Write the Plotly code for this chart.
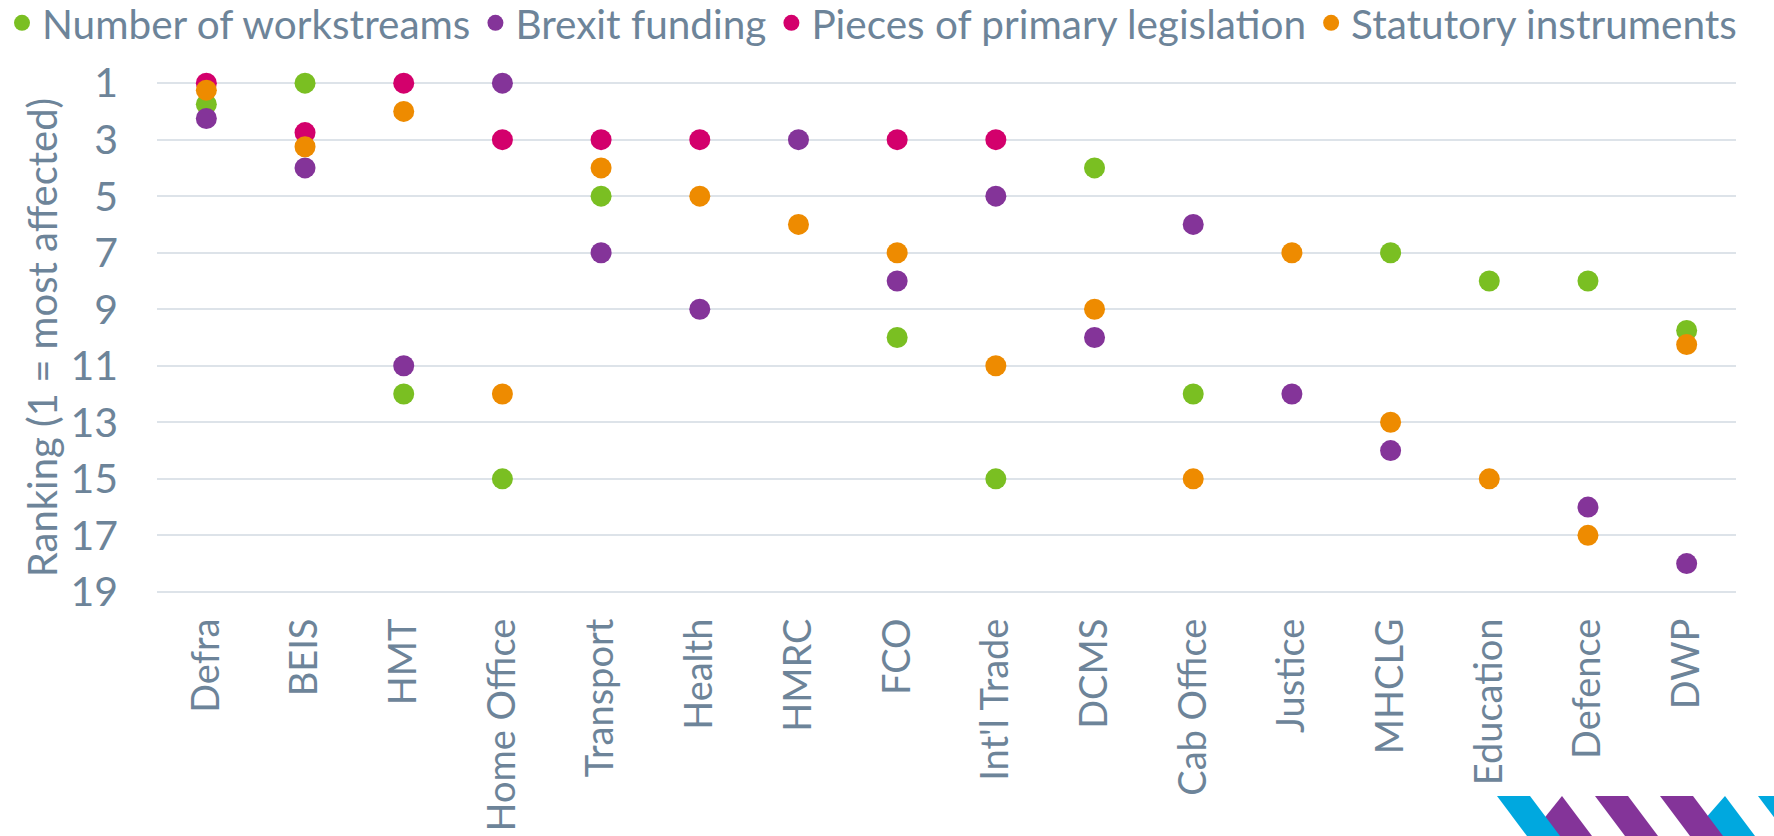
import plotly.graph_objects as go

# ---------------- data ----------------
departments = ["Defra", "BEIS", "HMT", "Home Office", "Transport", "Health", "HMRC", "FCO",
               "Int'l Trade", "DCMS", "Cab Office", "Justice", "MHCLG", "Education", "Defence", "DWP"]

workstreams = [1.75, 1, 12, 15, 5, None, None, 10, 15, 4, 12, None, 7, 8, 8, 9.75]
brexit_funding = [2.25, 4, 11, 1, 7, 9, 3, 8, 5, 10, 6, 12, 14, None, 16, 18]
primary_legislation = [1, 2.75, 1, 3, 3, 3, None, 3, 3, None, None, None, None, None, None, None]
statutory_instruments = [1.25, 3.25, 2, 12, 4, 5, 6, 7, 11, 9, 15, 7, 13, 15, 17, 10.25]

series_names = ["Number of workstreams", "Brexit funding", "Pieces of primary legislation", "Statutory instruments"]
series_values = [workstreams, brexit_funding, primary_legislation, statutory_instruments]
series_colors = ["#7ABF22", "#843499", "#D3006C", "#EE8B00"]

y_tick_values = [1, 3, 5, 7, 9, 11, 13, 15, 17, 19]
y_title = "Ranking (1 = most affected)"

# ---------------- style ----------------
W, H = 1774, 836
L, R, T, B = 157, 38, 82, 243
PW, PH = W - L - R, H - T - B
FONT = "Lato, Calibri, 'Open Sans', sans-serif"
TXT = "#6D8499"
GRID = "#DDE3E9"


def px_x(px):
    return (px - L) / PW


def px_y(py):
    return (H - B - py) / PH


fig = go.Figure()
for name, vals, col in zip(series_names, series_values, series_colors):
    fig.add_trace(go.Scatter(
        x=departments, y=vals, name=name, mode="markers",
        marker=dict(size=21, color=col, line=dict(width=0)),
        cliponaxis=False,
    ))

# decorative logo stripes (bottom-right)
CYAN, PURP = "#00A8DF", "#843499"
top, bot = 796, 836


def poly(points, color):
    path = "M " + " L ".join(f"{px_x(x):.5f},{px_y(y):.5f}" for x, y in points) + " Z"
    fig.add_shape(type="path", path=path, xref="paper", yref="paper",
                  fillcolor=color, line=dict(width=0), layer="above")


poly([(1562, top), (1592, bot), (1530, bot)], PURP)
poly([(1497, top), (1530, top), (1560, bot), (1527, bot)], CYAN)
poly([(1595, top), (1628, top), (1658, bot), (1625, bot)], PURP)
poly([(1725, top), (1755, bot), (1690, bot)], CYAN)
poly([(1660, top), (1693, top), (1723, bot), (1690, bot)], PURP)
poly([(1758, top), (1791, top), (1821, bot), (1788, bot)], CYAN)

fig.update_layout(
    width=W, height=H,
    margin=dict(l=L, r=R, t=T, b=B, autoexpand=False),
    paper_bgcolor="white", plot_bgcolor="white",
    font=dict(family=FONT, color=TXT, size=40),
    showlegend=True,
    legend=dict(orientation="h", x=px_x(2), xanchor="left", y=px_y(23), yanchor="middle",
                font=dict(size=40.5, color=TXT), itemsizing="trace",
                bgcolor="rgba(0,0,0,0)", borderwidth=0, tracegroupgap=0),
    xaxis=dict(type="category", categoryorder="array", categoryarray=departments,
               range=[-0.5, len(departments) - 0.5],
               showgrid=False, zeroline=False, showline=False, ticks="",
               tickangle=-90, tickfont=dict(size=38, color=TXT),
               ticklabelstandoff=17, automargin=False),
    yaxis=dict(range=[19.04, 0.96], tickvals=y_tick_values, showgrid=True,
               gridcolor=GRID, gridwidth=2, zeroline=False, showline=False, ticks="",
               tickfont=dict(size=41, color=TXT), ticklabelstandoff=38,
               title=dict(text=y_title, font=dict(size=40, color=TXT), standoff=0),
               automargin=False),
)

fig.write_html("out.html", config={"displayModeBar": False},
               post_script="document.body.style.margin='0';document.body.style.overflow='hidden';")
